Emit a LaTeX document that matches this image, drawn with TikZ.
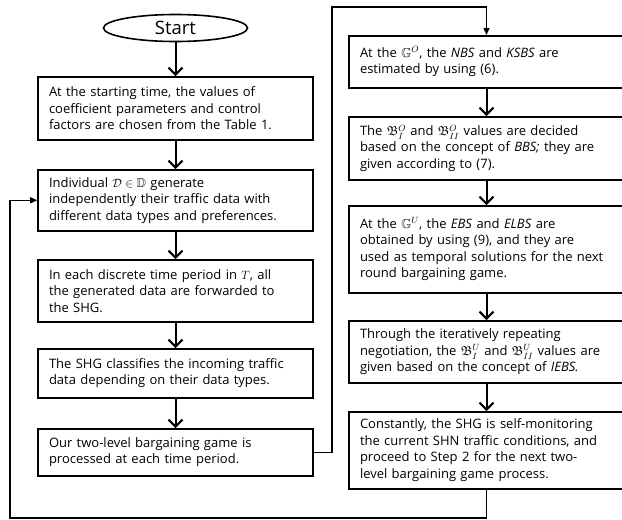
\documentclass[tikz,border=0pt]{standalone}
\usepackage{amsmath,amssymb}
\usepackage{fontspec}
\setmainfont{Open Sans}
\usetikzlibrary{shapes.geometric, arrows.meta, positioning}
\tikzset{%
  % one step of the procedure
  stepbox/.style={rectangle, draw, line width=1.6pt, anchor=north,
    text width=253pt, inner xsep=11pt, inner ysep=2pt, align=left,
    font=\fontsize{13}{16.5}\selectfont},
  % start / end terminal
  termbox/.style={ellipse, draw, line width=1.6pt, minimum width=144pt,
    minimum height=27pt, inner sep=0pt, font=\fontsize{18.5}{20}\selectfont},
  % arrow from one step to the next
  flow/.style={line width=2pt, -{Straight Barb[length=7pt, width=14pt, line width=2pt]}},
  % thin line going round the columns
  backline/.style={line width=1.2pt, -{Triangle[length=7pt, width=6pt]}},
}
\begin{document}
\begin{tikzpicture}[x=1pt, y=-1pt]
  \useasboundingbox (0,0) rectangle (622,520);
  % left column
  \node[termbox] (start) at (175.5,28) {Start};
  \node[stepbox, minimum height=63pt] (init) at (175.5,76) {At the starting time, the values of\\ coefficient parameters and control\\ factors are chosen from the Table 1.};
  \node[stepbox, minimum height=61pt] (gen) at (175.5,169) {Individual $\mathcal{D}\in\mathbb{D}$ generate\\ independently their traffic data with\\ different data types and preferences.};
  \node[stepbox, minimum height=62pt] (fwd) at (175.5,259) {In each discrete time period in $T$, all\\ the generated data are forwarded to\\ the SHG.};
  \node[stepbox, minimum height=49pt] (classify) at (175.5,348) {The SHG classifies the incoming traffic\\ data depending on their data types.};
  \node[stepbox, minimum height=47pt] (game) at (175.5,428) {Our two-level bargaining game is\\ processed at each time period.};
  % right column
  \node[stepbox, minimum height=52pt] (nbs) at (486.5,35) {At the $\mathbb{G}^{O}$, the \textit{NBS} and \textit{KSBS} are\\ estimated by using (6).};
  \node[stepbox, minimum height=63pt] (bbs) at (486.5,116) {The $\mathfrak{B}^{O}_{I}$ and $\mathfrak{B}^{O}_{II}$ values are decided\\ based on the concept of \textit{BBS;} they are\\ given according to (7).};
  \node[stepbox, minimum height=87pt] (ebs) at (486.5,205) {At the $\mathbb{G}^{U}$, the \textit{EBS} and \textit{ELBS} are\\ obtained by using (9), and they are\\ used as temporal solutions for the next\\ round bargaining game.};
  \node[stepbox, minimum height=62pt] (iebs) at (486.5,320) {Through the iteratively repeating\\ negotiation, the $\mathfrak{B}^{U}_{I}$ and $\mathfrak{B}^{U}_{II}$ values are\\ given based on the concept of \textit{IEBS.}};
  \node[stepbox, minimum height=77pt] (monitor) at (486.5,411) {Constantly, the SHG is self-monitoring\\ the current SHN traffic conditions, and\\ proceed to Step 2 for the next two-\\ level bargaining game process.};
  \coordinate (upper) at (332,7);
  \coordinate (lower) at (10,518);
  \draw[flow] (start) -- (init);
  \draw[flow] (init) -- (gen);
  \draw[flow] (gen) -- (fwd);
  \draw[flow] (fwd) -- (classify);
  \draw[flow] (classify) -- (game);
  \draw[flow] (nbs) -- (bbs);
  \draw[flow] (bbs) -- (ebs);
  \draw[flow] (ebs) -- (iebs);
  \draw[flow] (iebs) -- (monitor);
  \draw[backline] (game.east) -| (upper) -| (nbs.north);
  \draw[backline] (monitor.south) |- (lower) |- (gen.west);
\end{tikzpicture}
\end{document}
